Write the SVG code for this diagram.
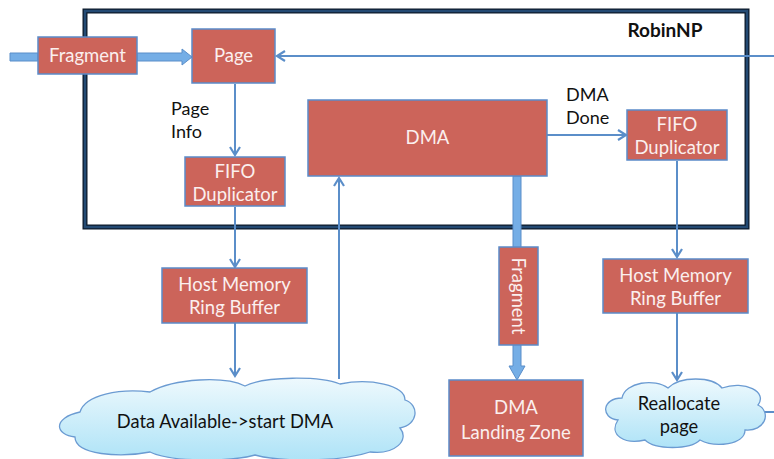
<svg xmlns="http://www.w3.org/2000/svg" width="774" height="459" viewBox="0 0 774 459">
<defs>
<style>
.box{fill:#cc645a;stroke:#5b8bc9;stroke-width:1.5}
.bt{font-family:Lato,"Open Sans","Liberation Sans",sans-serif;font-size:18.5px;fill:#fbefee;text-anchor:middle}
.lt{font-family:Lato,"Open Sans","Liberation Sans",sans-serif;font-size:18px;fill:#111}
.ct{font-family:Lato,"Open Sans","Liberation Sans",sans-serif;font-size:18.3px;fill:#111;text-anchor:middle}
.ln{stroke:#5b8ec9;stroke-width:2;fill:none}
.thick{fill:#75aee6;stroke:#5b8ec9;stroke-width:1}
.cloud{fill:url(#cg);stroke:#6b9bd2;stroke-width:1.3}
</style>
<linearGradient id="cg" x1="0" y1="0" x2="0" y2="1">
<stop offset="0" stop-color="#eef9fd"/>
<stop offset="1" stop-color="#aee3f7"/>
</linearGradient>
<marker id="ah" markerWidth="12" markerHeight="12" refX="9" refY="6" orient="auto" markerUnits="userSpaceOnUse">
<path d="M1,1 L9,6 L1,11" fill="none" stroke="#5b8ec9" stroke-width="2.2"/>
</marker>
</defs>
<rect width="774" height="459" fill="#fff"/>
<g id="robinnp">
<rect x="85" y="11" width="662" height="216" fill="none" stroke="#0d1a2a" stroke-width="5"/>
<rect x="85" y="11" width="662" height="216" fill="none" stroke="#234a73" stroke-width="2.5"/>
<text x="665" y="37" font-family="Lato,'Open Sans','Liberation Sans',sans-serif" font-size="19" font-weight="bold" fill="#111" text-anchor="middle">RobinNP</text>
</g>
<g id="connectors">
<path class="thick" d="M10,53 H38 V61 H10 Z"/>
<path class="thick" d="M137,53 H182 V49 L192,57 L182,65 V61 H137 Z"/>
<line class="ln" x1="774" y1="56" x2="277" y2="56" marker-end="url(#ah)"/>
<line class="ln" x1="235" y1="84" x2="235" y2="155" marker-end="url(#ah)"/>
<line class="ln" x1="235" y1="207" x2="235" y2="267" marker-end="url(#ah)"/>
<line class="ln" x1="235" y1="323" x2="235" y2="376" marker-end="url(#ah)"/>
<line class="ln" x1="339" y1="379" x2="339" y2="178" marker-end="url(#ah)"/>
<line class="ln" x1="547" y1="135" x2="626" y2="135" marker-end="url(#ah)"/>
<line class="ln" x1="677" y1="161" x2="677" y2="257" marker-end="url(#ah)"/>
<line class="ln" x1="677" y1="313" x2="677" y2="380" marker-end="url(#ah)"/>
<line class="ln" x1="760" y1="412" x2="774" y2="412"/>
<path class="thick" d="M513,176 H521 V366 H525 L517,380 L509,366 H513 Z"/>
<text class="lt" x="171" y="115">Page</text>
<text class="lt" x="171" y="138">Info</text>
<text class="lt" x="566" y="101">DMA</text>
<text class="lt" x="566" y="124">Done</text>
</g>
<g id="fragment">
<rect class="box" x="38" y="37" width="99" height="37"/>
<text class="bt" x="87.5" y="62">Fragment</text>
</g>
<g id="page">
<rect class="box" x="192" y="29" width="83" height="54"/>
<text class="bt" x="233.5" y="62">Page</text>
</g>
<g id="fifo1">
<rect class="box" x="185" y="157" width="100" height="49"/>
<text class="bt" x="235" y="178">FIFO</text>
<text class="bt" x="235" y="201">Duplicator</text>
</g>
<g id="hostmem1">
<rect class="box" x="162" y="268" width="145" height="55"/>
<text class="bt" x="234.5" y="291">Host Memory</text>
<text class="bt" x="234.5" y="314">Ring Buffer</text>
</g>
<g id="dma">
<rect class="box" x="308" y="100" width="239" height="76"/>
<text class="bt" x="427.5" y="144">DMA</text>
</g>
<g id="fifo2">
<rect class="box" x="627" y="110" width="100" height="50"/>
<text class="bt" x="677" y="131">FIFO</text>
<text class="bt" x="677" y="154">Duplicator</text>
</g>
<g id="hostmem2">
<rect class="box" x="603" y="259" width="145" height="54"/>
<text class="bt" x="675.5" y="282">Host Memory</text>
<text class="bt" x="675.5" y="305">Ring Buffer</text>
</g>
<g id="fraglabel">
<rect class="box" x="499" y="247" width="39" height="98"/>
<text class="bt" transform="translate(512,296) rotate(90)">Fragment</text>
</g>
<g id="landing">
<rect class="box" x="449" y="380" width="134" height="76"/>
<text class="bt" x="516" y="414">DMA</text>
<text class="bt" x="516" y="439">Landing Zone</text>
</g>
<g id="cloud1">
<path class="cloud" d="M75,437 C55,435 52,418 80,412 C85,395 120,388 150,392 C175,378 225,376 245,386 C265,376 320,376 340,384 C370,378 405,385 405,400 C420,405 418,425 400,428 C410,440 395,455 370,452 C340,462 280,462 255,455 C230,462 170,462 150,452 C120,458 75,455 75,437 Z"/>
<text class="ct" x="225" y="428">Data Available-&gt;start DMA</text>
</g>
<g id="cloud2">
<path class="cloud" d="M618,420 C600,418 602,398 622,398 C625,382 655,378 668,388 C680,376 712,376 722,388 C745,380 768,392 758,405 C772,412 765,432 745,430 C745,445 715,448 700,440 C690,450 655,450 645,440 C625,445 608,435 618,420 Z"/>
<text class="ct" x="679" y="410">Reallocate</text>
<text class="ct" x="679" y="433">page</text>
</g>
</svg>
